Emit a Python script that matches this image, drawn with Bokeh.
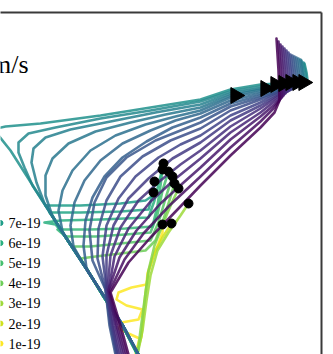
import numpy as np
from bokeh.plotting import figure
from bokeh.models import ColumnDataSource, Range1d, FixedTicker
from bokeh.transform import linear_cmap
from bokeh.palettes import Viridis256
from bokeh.core.properties import value
from bokeh.embed import file_html
from bokeh.resources import INLINE

# ---- data (x, z) in plot units; z axis points downward ----
arc_values = [1.45e-18, 1.40e-18, 1.36e-18, 1.31e-18, 1.27e-18, 1.22e-18, 1.18e-18, 1.13e-18,
              1.09e-18, 1.04e-18, 1.00e-18, 9.5e-19, 9.1e-19, 8.6e-19, 8.2e-19, 7.7e-19]
arcs = [
    [(128,354),(120,325),(110,292),(128,262),(150,237),(178,208),(200,185),(230,155),(260,127),(274,112),(279,100),(278,70),(276,38)],
    [(126,354),(118,325),(109,291),(124,259),(143,233),(169,205),(200,176),(230,147),(260,121),(273,108),(281,97),(280,70),(278,41)],
    [(124,354),(116,325),(108,290),(119,257),(136,230),(160,203),(182,183),(200,167),(230,139),(260,116),(274,104),(283,95),(282,70),(280,44)],
    [(122,354),(115,325),(108,290),(114,256),(128,228),(150,201),(174,179),(200,158),(230,132),(260,112),(275,100),(285,93),(284,70),(282,46)],
    [(120,354),(113,325),(107,289),(110,255),(120,227),(138,200),(160,180),(180,164),(200,150),(230,126),(260,108),(276,97),(287,91),(286,70),(284,48)],
    [(118,354),(112,325),(106,289),(106,255),(113,225),(128,198),(148,178),(172,158),(200,142),(230,120),(260,105),(277,95),(289,90),(288,70),(286,50)],
    [(117,354),(111,325),(106,289),(102,256),(106,225),(118,198),(135,176),(158,157),(180,144),(200,135),(230,115),(260,102),(278,93),(291,89),(290,70),(288,52)],
    [(116,354),(110,325),(105,289),(97,258),(98,228),(106,200),(120,176),(142,156),(170,140),(200,128),(230,110),(260,99),(280,91),(293,88),(292,72),(290,54)],
    [(115,354),(109,325),(105,289),(92,260),(89,230),(94,202),(106,177),(126,157),(155,140),(200,122),(230,106),(260,97),(282,90),(295,87),(294,72),(292,55)],
    [(138,354),(123,326),(103,295),(86,268),(83,245),(85,220),(92,197),(104,176),(122,157),(146,141),(172,127),(200,117),(230,103),(260,95),(284,89),(297,86),(296,72),(294,56)],
    [(138,354),(123,326),(103,295),(83,264),(73,246),(70,225),(74,202),(84,180),(100,160),(122,143),(150,130),(175,120),(200,113),(230,100),(260,93),(286,88),(299,85),(298,72),(296,57)],
    [(138,354),(123,326),(103,295),(83,264),(62,231),(58,210),(62,190),(72,170),(90,150),(115,135),(145,124),(175,116),(200,110),(230,97),(260,91),(288,87),(301,84),(300,72),(298,58)],
    [(138,354),(123,326),(103,295),(83,264),(64,235),(52,216),(45,195),(45,175),(52,158),(68,143),(95,131),(130,122),(165,114),(200,107),(230,95),(260,89),(290,86),(303,83),(302,72),(300,59)],
    [(138,354),(123,326),(103,295),(83,264),(64,235),(44,203),(36,182),(31,162),(33,148),(45,137),(70,129),(110,121),(155,112),(200,104),(230,93),(260,88),(292,85),(304,82),(303,72),(301,60)],
    [(138,354),(123,326),(103,295),(83,264),(64,235),(45,205),(32,185),(24,167),(18,152),(18,142),(28,133),(55,127),(100,118),(150,110),(200,101),(230,91),(260,86),(294,83),(306,81),(305,72),(303,62)],
    [(138,354),(123,326),(103,295),(83,264),(64,235),(45,205),(24,172),(10,150),(-2,135),(-4,128),(5,126),(40,123),(100,115),(150,107),(200,99),(230,89),(260,84),(295,82),(307,80),(306,72),(304,63)],
]

slow_values = [1e-19, 2e-19, 3e-19, 3.5e-19, 4e-19, 4.5e-19, 5e-19, 5.5e-19, 6e-19, 6.5e-19, 7e-19]
slow = [
    [(135,354),(139,338),(128,333),(118,328),(121,322),(138,319),(142,309),(126,305),(116,299),(118,292),(131,287),(146,284),(147,273),(152,258),(158,243),(162,232),(162,224)],
    [(136,354),(141,336),(143,312),(145,292),(148,272),(154,252),(162,237),(171,223)],
    [(137,354),(142,330),(146,300),(150,275),(157,250),(168,232),(180,215),(188,203)],
    [(137,354),(140,330),(144,300),(148,270),(154,245),(163,222),(171,203),(178,188)],
    [(137,354),(123,327),(103,296),(86,268),(80,258),(95,256),(120,253),(145,250),(155,240),(162,222),(168,203),(174,183)],
    [(137,354),(123,327),(103,296),(86,268),(72,246),(90,246),(120,243),(150,240),(158,222),(165,198),(172,176)],
    [(137,354),(123,327),(103,296),(86,268),(67,240),(66,236),(95,236),(125,234),(150,232),(157,214),(162,190),(168,171)],
    [(137,354),(123,327),(103,296),(86,268),(64,235),(57,229),(90,229),(125,228),(152,226),(157,205),(160,185),(162,169)],
    [(137,354),(123,327),(103,296),(86,268),(64,235),(55,224),(44,222),(60,220),(100,219),(148,217),(154,200),(159,180),(163,163)],
    [(137,354),(123,327),(103,296),(86,268),(64,235),(52,216),(49,212),(80,212),(120,211),(148,209),(152,195),(154,181)],
    [(137,354),(123,327),(103,296),(86,268),(64,235),(47,207),(45,205),(80,205),(120,203),(145,200),(151,196),(153,192)],
]

tri_x = [235, 265, 275, 283, 290, 297, 303]
tri_z = [95, 88, 84, 83, 82, 82, 82]

legend_labels = ["7e-19", "6e-19", "5e-19", "4e-19", "3e-19", "2e-19", "1e-19"]
legend_values = [7e-19, 6e-19, 5e-19, 4e-19, 3e-19, 2e-19, 1e-19]

# ---- build sources (ascending value order: yellow first, purple on top) ----
curves = list(zip(slow_values, slow)) + list(zip(arc_values, arcs))
curves.sort(key=lambda c: c[0])
src = ColumnDataSource(dict(
    xs=[[p[0] for p in c] for _, c in curves],
    ys=[[p[1] for p in c] for _, c in curves],
    val=[v for v, _ in curves],
))
pal = list(reversed(Viridis256))
cmap = linear_cmap("val", pal, low=1e-19, high=1.45e-18)

p = figure(width=333, height=354, output_backend="svg", toolbar_location=None,
           x_range=Range1d(0, 321), y_range=Range1d(354, 12),
           x_axis_location="above", y_axis_location="right",
           min_border_left=0, min_border_right=12, min_border_top=12, min_border_bottom=0)
p.outline_line_color = None
p.xgrid.visible = False
p.ygrid.visible = False
for ax in (p.xaxis[0], p.yaxis[0]):
    ax.ticker = FixedTicker(ticks=[])
    ax.major_tick_line_color = None
    ax.minor_tick_line_color = None
    ax.major_label_standoff = 0
    ax.major_tick_out = 0
    ax.major_tick_in = 0
    ax.axis_line_color = "#3a3a3a"
    ax.axis_line_width = 2

p.multi_line(xs="xs", ys="ys", source=src, line_color=cmap, line_width=2.6,
             line_alpha=0.85, line_join="round", line_cap="round")

dot_x = [c[-1][0] for c in slow]
dot_z = [c[-1][1] for c in slow]
p.scatter(dot_x, dot_z, size=9, color="black")
p.scatter(tri_x, tri_z, marker="triangle", size=16, angle=-np.pi / 2, color="black")

# speed label; its left part lies beyond the crop, as in the source figure
p.text(x=[28], y=[64], text=["m/s"], text_align="right", text_baseline="alphabetic",
       text_font=value("Liberation Serif"), text_font_size="26px", text_color="black")

leg_y = [222.5 + 20.1 * i for i in range(len(legend_labels))]
lsrc = ColumnDataSource(dict(x=[0.0] * len(legend_labels), tx=[8.0] * len(legend_labels),
                             y=leg_y, label=legend_labels, val=legend_values))
p.scatter(x="x", y="y", source=lsrc, size=5, color=cmap)
p.text(x="tx", y="y", text="label", source=lsrc, text_baseline="middle",
       text_font=value("Liberation Serif"), text_font_size="14px", text_color="black")

open("out.html", "w").write(file_html(p, INLINE))
